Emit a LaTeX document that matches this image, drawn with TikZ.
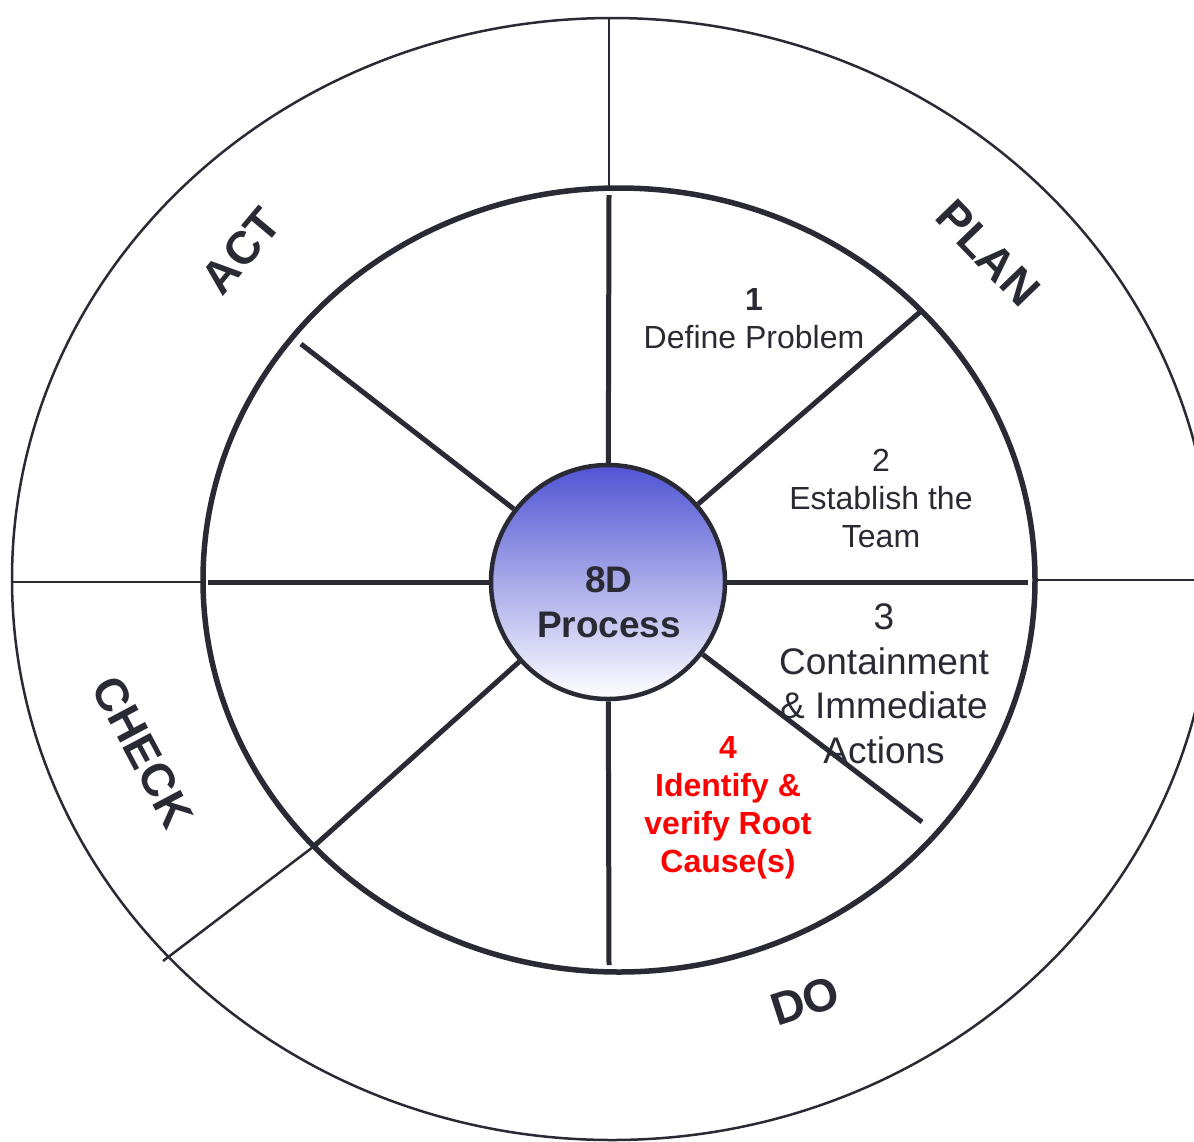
\documentclass[tikz,border=0pt]{standalone}
\usepackage{fontspec}
\setmainfont{Liberation Sans}
\usetikzlibrary{positioning}
\definecolor{ink}{RGB}{42,42,53}
\definecolor{coreblue}{RGB}{80,84,212}
\definecolor{rootred}{RGB}{255,0,0}

\begin{document}
\begin{tikzpicture}[
  x=1pt, y=-1pt,
  ring/.style={draw=ink, line width=2.5pt},
  wheel/.style={draw=ink, line width=5.5pt},
  spoke/.style={draw=ink, line width=5pt},
  divider/.style={draw=ink, line width=2.5pt},
  phase/.style={font=\fontsize{46}{52}\selectfont\bfseries, text=ink},
  stepnote/.style={align=center, text=ink, font=\fontsize{32}{38}\selectfont},
]
\useasboundingbox (0,0) rectangle (1194,1141);
\clip (0,0) rectangle (1194,1141);

% rings
\draw[ring] (612,579) ellipse [x radius=600, y radius=561];
\draw[wheel] (619,580) ellipse [x radius=416, y radius=392];

\node[circle, draw=ink, line width=4.5pt, minimum size=234pt, inner sep=0pt,
      top color=coreblue, bottom color=white] (core) at (608,582) {};

% spokes
\coordinate (n) at (609,195);
\coordinate (ne) at (920,312);
\coordinate (e) at (1028,582);
\coordinate (se) at (922,822);
\coordinate (s) at (609,965);
\coordinate (sw) at (313,847);
\coordinate (w) at (208,582);
\coordinate (nw) at (301,344);
\foreach \p in {n,ne,e,se,s,sw,w,nw}
  \draw[spoke] (core) -- (\p);

% outer dividers
\coordinate (topin) at (609,187);
\coordinate (topout) at (609,17);
\coordinate (leftin) at (202,582);
\coordinate (leftout) at (12,582);
\coordinate (rightin) at (1036,580);
\coordinate (rightout) at (1194,580);
\coordinate (lowout) at (163,961);
\draw[divider] (topin) -- (topout);
\draw[divider] (leftin) -- (leftout);
\draw[divider] (rightin) -- (rightout);
\draw[divider] (sw) -- (lowout);

\node[font=\fontsize{37}{45}\selectfont\bfseries, align=center, text=ink]
  (coretext) at (609,602) {8D\\Process};

\node[stepnote] (d1) at (754,319) {\textbf{1}\\Define Problem};
\node[stepnote] (d2) at (881,498) {2\\Establish the\\Team};
\node[stepnote, font=\fontsize{37}{44.5}\selectfont] (d3) at (884,684)
  {3\\Containment\\\& Immediate\\Actions};
\node[stepnote, text=rootred, font=\fontsize{32}{38}\selectfont\bfseries]
  (d4) at (728,808) {4\\Identify \&\\verify Root\\Cause(s)};

% PDCA
\node[phase, rotate=50] (act) at (241,251) {ACT};
\node[phase, rotate=-46] (plan) at (988,253) {PLAN};
\node[phase, rotate=-62] (check) at (143,752) {CHECK};
\node[phase, rotate=18] (do) at (805,1001) {DO};
\end{tikzpicture}
\end{document}
